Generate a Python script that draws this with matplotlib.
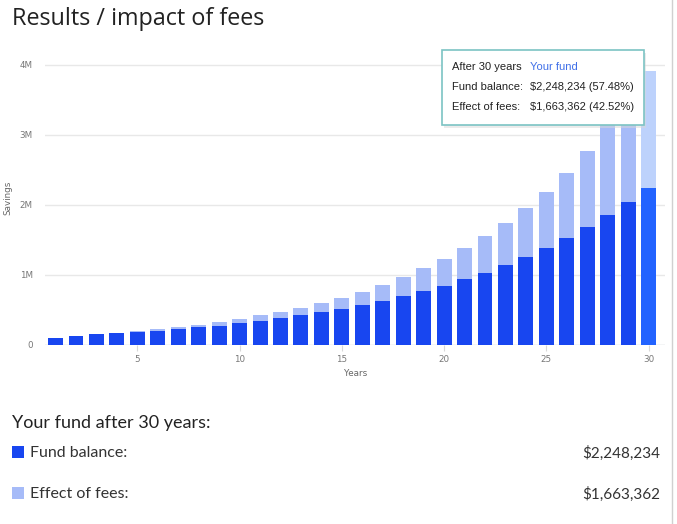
import numpy as np
import matplotlib.pyplot as plt
from matplotlib.patches import Rectangle, FancyBboxPatch
from matplotlib.lines import Line2D

years = list(range(1, 31))
# values, in millions
fund = [0.104, 0.129, 0.153, 0.167, 0.186, 0.204, 0.229, 0.253, 0.276, 0.310,
        0.347, 0.386, 0.424, 0.476, 0.519, 0.567, 0.629, 0.704, 0.776, 0.847,
        0.939, 1.033, 1.143, 1.261, 1.390, 1.533, 1.686, 1.853, 2.039, 2.248234]
fees = [0.0, 0.0, 0.002, 0.004, 0.008, 0.020, 0.021, 0.033, 0.048, 0.061,
        0.077, 0.085, 0.105, 0.128, 0.157, 0.194, 0.228, 0.272, 0.320, 0.382,
        0.447, 0.524, 0.600, 0.696, 0.800, 0.928, 1.085, 1.297, 1.481, 1.663362]
yticks = [0, 1, 2, 3, 4]
ytick_labels = ['0', '1M', '2M', '3M', '4M']
xticks = [5, 10, 15, 20, 25, 30]

dark = '#1846f0'
light = '#a6bbf8'
dark_hi = '#2263ff'
light_hi = '#bdd2fc'

W, H = 677, 524
fig = plt.figure(figsize=(W / 100, H / 100), dpi=100)

def fx(px):
  return px / W

def fy(py):
  return 1 - py / H

ax = fig.add_axes([fx(45.3), fy(345), fx(665) - fx(45.3), fy(51) - fy(345)])

fund_colors = [dark] * 29 + [dark_hi]
fee_colors = [light] * 29 + [light_hi]
ax.bar(years, fund, width=0.73, color=fund_colors, zorder=2)
ax.bar(years, fees, width=0.73, bottom=fund, color=fee_colors, zorder=2)

ax.set_xlim(0.5, 30.8)
ax.set_ylim(0, 4.2)
ax.set_yticks(yticks)
ax.set_yticklabels(ytick_labels)
ax.set_xticks(xticks)
for s in ax.spines.values():
  s.set_visible(False)
ax.grid(axis='y', color='#e8e8e8', linewidth=1, zorder=0)
ax.axhline(0, color='#dfe3ea', linewidth=1, zorder=1)
ax.tick_params(axis='y', length=0, pad=9, labelsize=6.3, labelcolor='#777777')
ax.tick_params(axis='x', length=4, color='#d8d8d8', pad=3, labelsize=6.3, labelcolor='#777777')
ax.set_ylabel('Savings', fontsize=6.3, color='#666666', labelpad=5)
ax.set_xlabel('Years', fontsize=6.3, color='#666666', labelpad=4)

title_font = ['Lato', 'DejaVu Sans']
fig.text(fx(12), fy(19), 'Results / impact of fees', fontsize=16.8, color='#222222',
         family=['Open Sans', 'DejaVu Sans'], va='center', ha='left')

# tooltip
tip = FancyBboxPatch((fx(442), fy(125)), fx(644) - fx(442), fy(50) - fy(125),
                     boxstyle='square,pad=0', transform=fig.transFigure,
                     facecolor='white', edgecolor='#7cc3c4', linewidth=1.2, zorder=5)
shadow = FancyBboxPatch((fx(444), fy(128)), fx(644) - fx(442), fy(50) - fy(125),
                        boxstyle='square,pad=0', transform=fig.transFigure,
                        facecolor='#d8d8d8', edgecolor='none', alpha=0.5, zorder=4)
fig.patches.extend([shadow, tip])
tip_font = ['Liberation Sans', 'DejaVu Sans']
rows = [('After 30 years', 'Your fund', '#3f6fe8'),
        ('Fund balance:', '$2,248,234 (57.48%)', '#222222'),
        ('Effect of fees:', '$1,663,362 (42.52%)', '#222222')]
for i, (a, b, c) in enumerate(rows):
  y = fy(67 + 20 * i)
  fig.text(fx(452), y, a, fontsize=8, color='#222222', family=tip_font, va='center', zorder=6)
  fig.text(fx(530), y, b, fontsize=8, color=c, family=tip_font, va='center', zorder=6)

# summary below the chart
fig.text(fx(12), fy(423), 'Your fund after 30 years:', fontsize=13, color='#222222',
         family=title_font, va='center')
summary = [('Fund balance:', '$2,248,234', dark, 453),
           ('Effect of fees:', '$1,663,362', light, 494)]
for label, val, col, py in summary:
  fig.patches.append(Rectangle((fx(12), fy(py + 5)), fx(12), fy(446) - fy(458),
                               transform=fig.transFigure, facecolor=col, edgecolor='none'))
  fig.text(fx(30), fy(py), label, fontsize=11.5, color='#333333', family=title_font,
           va='center')
  fig.text(fx(660), fy(py), val, fontsize=11, color='#333333', family=title_font,
           va='center', ha='right')

fig.add_artist(Line2D([fx(672), fx(672)], [0, 1], transform=fig.transFigure,
                      color='#d0d0d0', linewidth=1))

fig.savefig('out.png', dpi=100, facecolor='white')
